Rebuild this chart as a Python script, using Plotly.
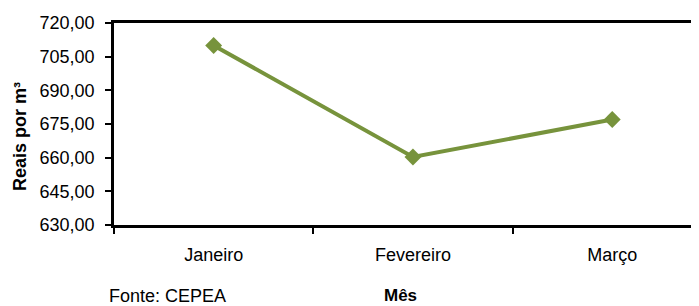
import plotly.graph_objects as go

months = ["Janeiro", "Fevereiro", "Março"]
prices = [710.0, 660.3, 677.0]
y_ticks = [630, 645, 660, 675, 690, 705, 720]
y_title = "Reais por m³"
x_title = "Mês"
source = "Fonte: CEPEA"

FONT = "Liberation Sans, Arial, sans-serif"
GREEN = "#77933C"

OFF = 8  # page body margin
W, H = 699, 306
L, T = 114 - OFF, 23 - OFF
B = H - (225 - OFF)
R = 0
pw = W - L - R
ph = H - T - B

def px_x(x):
    return (x - OFF - L) / pw

def px_y(y):
    return (H - B - (y - OFF)) / ph

fig = go.Figure()
fig.add_trace(go.Scatter(
    x=months, y=prices, mode="lines+markers",
    line=dict(color=GREEN, width=4),
    marker=dict(symbol="diamond", size=13, color=GREEN),
    showlegend=False, hoverinfo="skip",
))

fig.update_layout(
    width=W, height=H,
    margin=dict(l=L, r=R, t=T, b=B, pad=0),
    paper_bgcolor="white", plot_bgcolor="white",
    font=dict(family=FONT, size=18, color="black"),
    separators=",.",
    xaxis=dict(
        type="category", categoryorder="array", categoryarray=months,
        range=[-0.5, -0.5 + pw / 199.3],
        showline=True, linecolor="black", linewidth=2.5, mirror=True,
        ticks="outside", tickson="boundaries", ticklen=6, tickwidth=2, tickcolor="black",
        showgrid=False, zeroline=False,
        tickfont=dict(size=18), ticklabelstandoff=12,
    ),
    yaxis=dict(
        range=[630, 720], tickvals=y_ticks, tickformat=".2f",
        showline=True, linecolor="black", linewidth=2.5, mirror=False,
        ticks="outside", ticklen=6, tickwidth=2, tickcolor="black",
        showgrid=False, zeroline=False,
        tickfont=dict(size=18), ticklabelstandoff=7,
    ),
    annotations=[
        dict(text=f"<b>{y_title}</b>", xref="paper", yref="paper", x=px_x(20), y=px_y(137),
             textangle=-90, showarrow=False, font=dict(size=18, family=FONT),
             xanchor="center", yanchor="middle"),
        dict(text=f"<b>{x_title}</b>", xref="paper", yref="paper", x=px_x(400), y=px_y(295),
             showarrow=False, font=dict(size=17, family=FONT),
             xanchor="center", yanchor="middle"),
        dict(text=source, xref="paper", yref="paper", x=px_x(107), y=px_y(296),
             showarrow=False, font=dict(size=18, family=FONT),
             xanchor="left", yanchor="middle"),
    ],
)

fig.write_html("out.html")
